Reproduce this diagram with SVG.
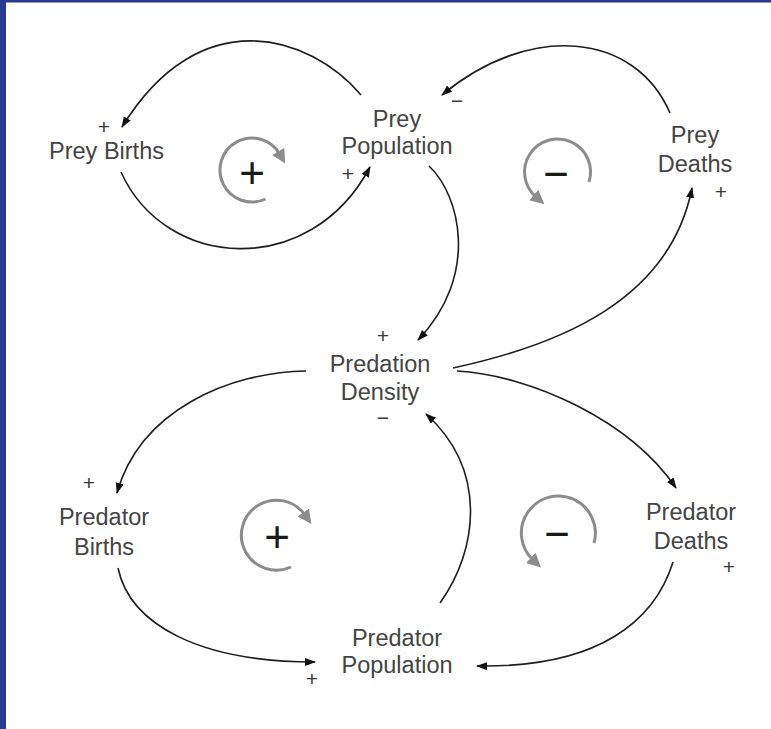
<svg xmlns="http://www.w3.org/2000/svg" width="771" height="729" viewBox="0 0 771 729">
<style>
.lbl{font-family:"Liberation Sans",Arial,sans-serif;font-size:23.5px;fill:#444444;text-anchor:middle}
.pol{font-family:"Liberation Sans",Arial,sans-serif;font-size:21px;fill:#3a3a3a;text-anchor:middle}
.sym{font-family:"Liberation Sans",Arial,sans-serif;font-size:44px;fill:#1a1a1a;text-anchor:middle}
.link{fill:none;stroke:#1e1e1e;stroke-width:1.6;marker-end:url(#ah)}
.loop{fill:none;stroke:#8c8c8c;stroke-width:3;marker-end:url(#lh)}
</style>
<defs>
<marker id="ah" markerUnits="userSpaceOnUse" markerWidth="12" markerHeight="10" refX="10" refY="4" orient="auto">
<path d="M0,0 L11,4 L0,8 z" fill="#111"/>
</marker>
<marker id="lh" markerUnits="userSpaceOnUse" markerWidth="16" markerHeight="16" refX="3" refY="7" orient="auto">
<path d="M0,0 L14,7 L0,14 z" fill="#8c8c8c"/>
</marker>
</defs>
<rect x="0" y="0" width="771" height="729" fill="#ffffff"/>
<rect x="0" y="0" width="6" height="729" fill="#2b3990"/>
<rect x="0" y="0" width="771" height="2.5" fill="#2b3990"/>

<g id="connectors">
<path class="link" d="M361,95 C310,35 200,0 122,127"/>
<path class="link" d="M121,172 C165,270 310,280 370,167"/>
<path class="link" d="M670,113 C635,32 530,22 442,95"/>
<path class="link" d="M429,166 C460,195 480,275 418,340"/>
<path class="link" d="M453,368 C560,345 670,300 692,188"/>
<path class="link" d="M306,371 C230,372 140,410 117,493"/>
<path class="link" d="M457,371 C530,375 630,420 676,488"/>
<path class="link" d="M440,603 C478,550 488,470 426,414"/>
<path class="link" d="M118,568 C130,625 200,662 315,662"/>
<path class="link" d="M673,562 C655,620 600,668 477,666"/>
</g>

<g id="loop-r1">
<path class="loop" d="M265.5,199 A32,32 0 1 1 279.7,154"/>
<text class="sym" x="252" y="187.5">+</text>
</g>
<g id="loop-b1">
<path class="loop" d="M589,182 A33,33 0 1 0 536,197"/>
<text class="sym" x="556" y="188.5">−</text>
</g>
<g id="loop-r2">
<path class="loop" d="M291,567 A35,35 0 1 1 305,515"/>
<text class="sym" x="277" y="551.5">+</text>
</g>
<g id="loop-b2">
<path class="loop" d="M594,543 A37,37 0 1 0 533,560"/>
<text class="sym" x="557" y="548.5">−</text>
</g>

<g id="prey-births">
<text class="lbl" x="106.5" y="159">Prey Births</text>
<text class="pol" x="104" y="134">+</text>
</g>
<g id="prey-population">
<text class="lbl" x="397" y="127">Prey</text>
<text class="lbl" x="397" y="154">Population</text>
<text class="pol" x="348" y="181">+</text>
<text class="pol" x="457" y="108">−</text>
</g>
<g id="prey-deaths">
<text class="lbl" x="695" y="143">Prey</text>
<text class="lbl" x="695" y="172">Deaths</text>
<text class="pol" x="721" y="199">+</text>
</g>
<g id="predation-density">
<text class="lbl" x="380" y="372">Predation</text>
<text class="lbl" x="380" y="400">Density</text>
<text class="pol" x="383" y="343">+</text>
<text class="pol" x="383" y="425">−</text>
</g>
<g id="predator-births">
<text class="lbl" x="104" y="525">Predator</text>
<text class="lbl" x="104" y="555">Births</text>
<text class="pol" x="89" y="490">+</text>
</g>
<g id="predator-deaths">
<text class="lbl" x="691" y="520">Predator</text>
<text class="lbl" x="691" y="549">Deaths</text>
<text class="pol" x="729" y="574">+</text>
</g>
<g id="predator-population">
<text class="lbl" x="397" y="646">Predator</text>
<text class="lbl" x="397" y="673">Population</text>
<text class="pol" x="312" y="686">+</text>
</g>
</svg>
